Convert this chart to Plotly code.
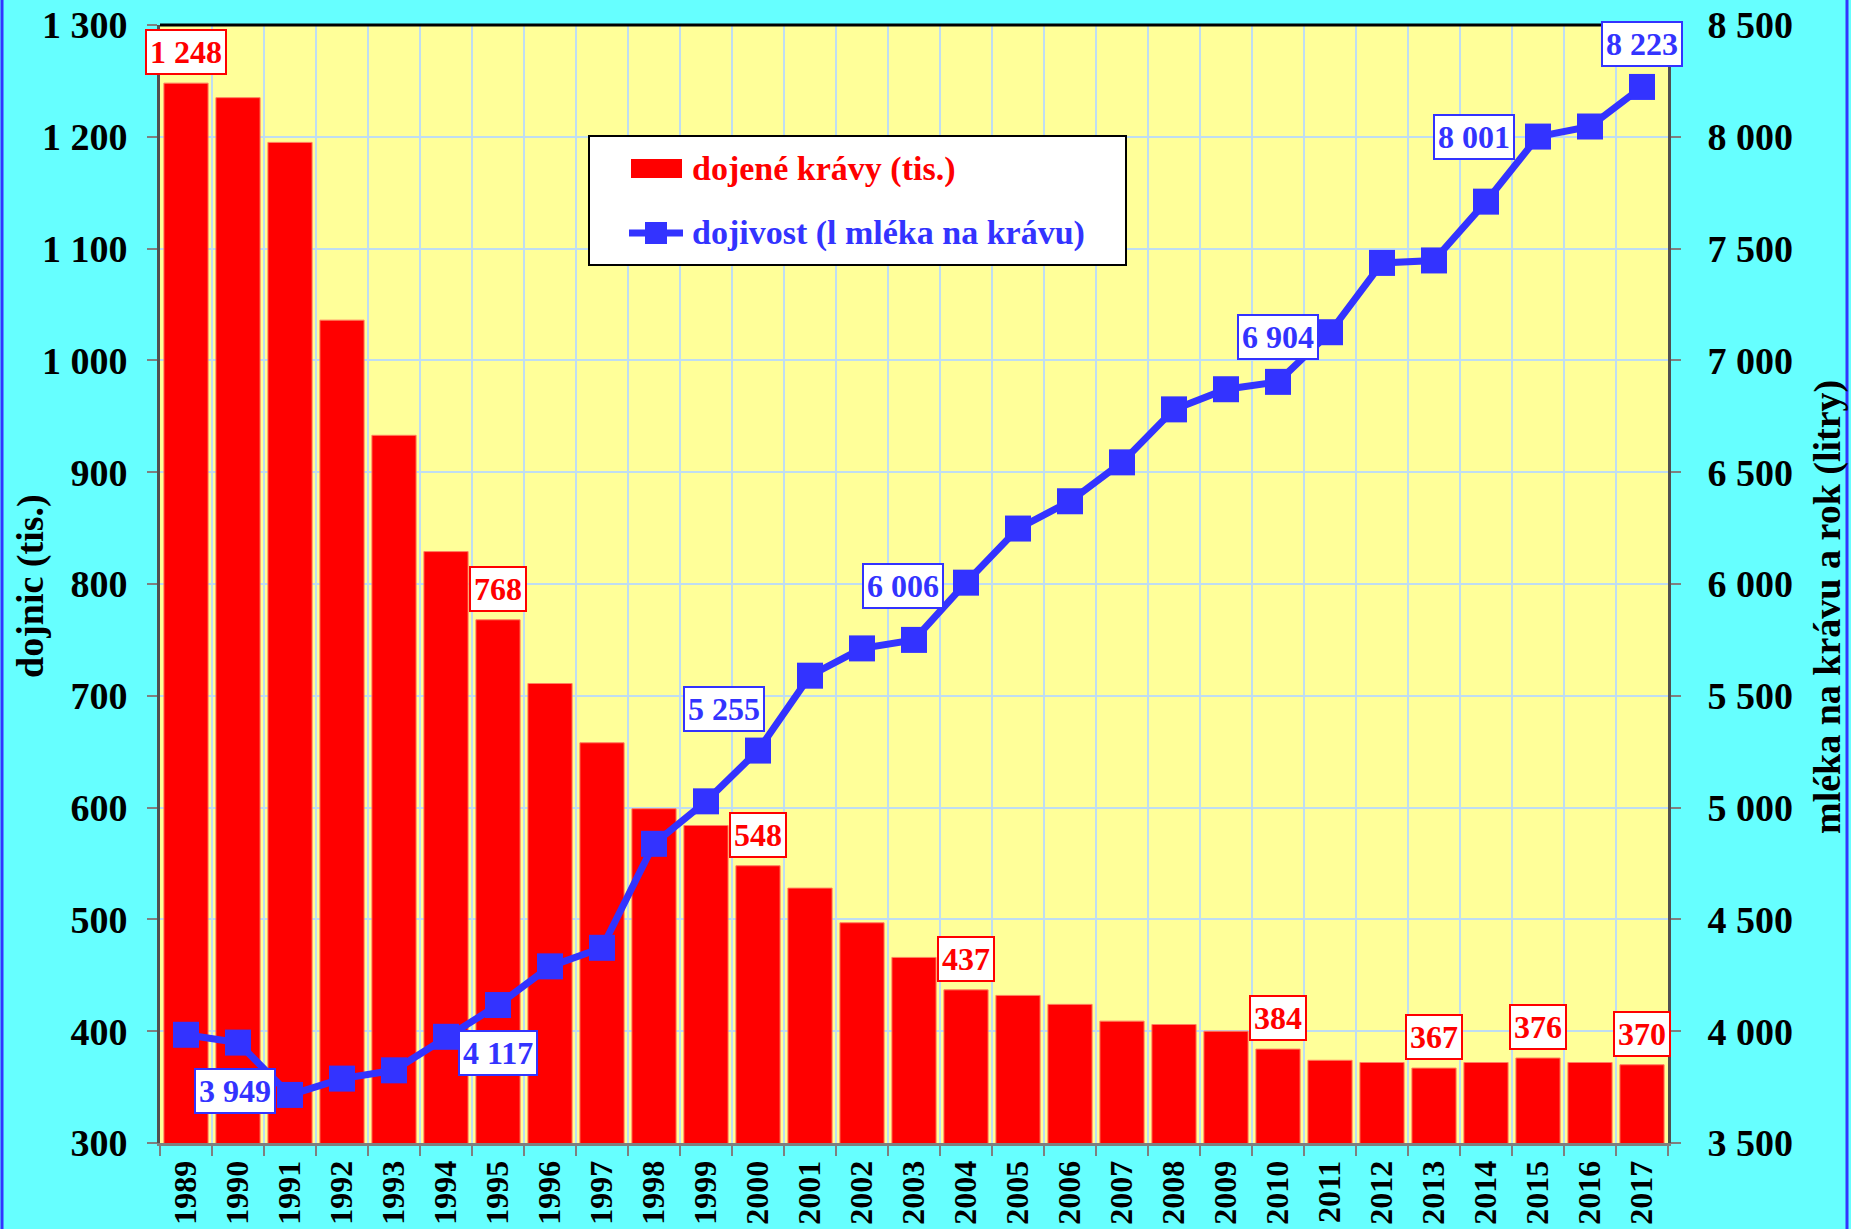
import plotly.graph_objects as go

# ---------------- data ----------------
years = ["1989", "1990", "1991", "1992", "1993", "1994", "1995", "1996", "1997", "1998",
         "1999", "2000", "2001", "2002", "2003", "2004", "2005", "2006", "2007", "2008",
         "2009", "2010", "2011", "2012", "2013", "2014", "2015", "2016", "2017"]
cows_thousands = [1248, 1235, 1195, 1036, 933, 829, 768, 711, 658, 599,
                  584, 548, 528, 497, 466, 437, 432, 424, 409, 406,
                  400, 384, 374, 372, 367, 372, 376, 372, 370]
milk_per_cow = [3984, 3949, 3715, 3788, 3825, 3975, 4117, 4290, 4373, 4838,
                5028, 5255, 5590, 5712, 5750, 6006, 6248, 6370, 6544, 6781,
                6871, 6904, 7126, 7436, 7447, 7710, 8001, 8046, 8223]
cow_label_years = ["1989", "1995", "2000", "2004", "2010", "2013", "2015", "2017"]
milk_label_years = ["1990", "1995", "2000", "2004", "2010", "2015", "2017"]
series_names = ["dojené krávy (tis.)", "dojivost (l mléka na krávu)"]
left_title = "dojnic (tis.)"
right_title = "mléka na krávu a rok (litry)"

# ---------------- style ----------------
FONT = "Liberation Serif, 'Times New Roman', Times, serif"
RED = "#FF0000"
BLUE = "#3333FF"
GRID = "#BFDDF2"
AXIS = "#7F7F7F"
W, H = 1851, 1229
L, R, T, B = 160, 183, 25, 86
PW = W - L - R
PH = H - T - B


def px(x):
    return (x - L) / PW


def py(y):
    return 1 - (y - T) / PH


def fmt(v):
    return f"{v:,}".replace(",", " ")


fig = go.Figure()
fig.add_bar(x=years, y=cows_thousands, name=series_names[0], yaxis="y",
            marker=dict(color=RED, line=dict(color="#FF8060", width=1)),
            showlegend=False)
fig.add_scatter(x=years, y=milk_per_cow, name=series_names[1], yaxis="y2",
                mode="lines+markers",
                line=dict(color=BLUE, width=7),
                marker=dict(symbol="square", size=26, color=BLUE),
                showlegend=False)

annotations = []
# bar value labels (x given as category index)
for yr in cow_label_years:
    i = years.index(yr)
    v = cows_thousands[i]
    annotations.append(dict(x=i, y=v, xref="x", yref="y", text=fmt(v),
                            showarrow=False, xanchor="center", yanchor="bottom", yshift=8,
                            font=dict(family=FONT, size=32, color=RED, weight="bold"),
                            bgcolor="white", bordercolor=RED, borderwidth=2, borderpad=3))

# line value label placements (style only)
milk_place = {
    "1990": dict(xanchor="center", yanchor="top", xshift=-3, yshift=-25),
    "1995": dict(xanchor="center", yanchor="top", xshift=0, yshift=-25),
    "2000": dict(xanchor="right", yanchor="bottom", xshift=7, yshift=19),
    "2004": dict(xanchor="right", yanchor="middle", xshift=-22, yshift=-3),
    "2010": dict(xanchor="center", yanchor="bottom", xshift=0, yshift=22),
    "2015": dict(xanchor="right", yanchor="middle", xshift=-23, yshift=0),
    "2017": dict(xanchor="center", yanchor="bottom", xshift=0, yshift=20),
}
for yr in milk_label_years:
    i = years.index(yr)
    v = milk_per_cow[i]
    annotations.append(dict(x=i, y=v, xref="x", yref="y2", text=fmt(v),
                            showarrow=False,
                            font=dict(family=FONT, size=32, color=BLUE, weight="bold"),
                            bgcolor="white", bordercolor=BLUE, borderwidth=2, borderpad=3,
                            **milk_place[yr]))

# axis titles
annotations.append(dict(x=px(30), y=py(586), xref="paper", yref="paper", text=left_title,
                        textangle=-90, showarrow=False, xanchor="center", yanchor="middle",
                        font=dict(family=FONT, size=38, color="black", weight="bold")))
annotations.append(dict(x=px(1827), y=py(607), xref="paper", yref="paper", text=right_title,
                        textangle=-90, showarrow=False, xanchor="center", yanchor="middle",
                        font=dict(family=FONT, size=38, color="black", weight="bold")))

# legend texts
annotations.append(dict(x=px(690), y=py(169), xref="paper", yref="paper", text=series_names[0],
                        showarrow=False, xanchor="left", yanchor="middle",
                        font=dict(family=FONT, size=34, color=RED, weight="bold")))
annotations.append(dict(x=px(690), y=py(233), xref="paper", yref="paper", text=series_names[1],
                        showarrow=False, xanchor="left", yanchor="middle",
                        font=dict(family=FONT, size=34, color=BLUE, weight="bold")))

shapes = [
    # top plot border
    dict(type="line", xref="paper", yref="paper", x0=0, x1=1, y0=1, y1=1,
         line=dict(color="black", width=3)),
    # legend box
    dict(type="rect", xref="paper", yref="paper", x0=px(589), x1=px(1126), y0=py(265), y1=py(136),
         fillcolor="white", line=dict(color="black", width=2)),
    dict(type="rect", xref="paper", yref="paper", x0=px(631), x1=px(682), y0=py(178), y1=py(159),
         fillcolor=RED, line=dict(width=0)),
    dict(type="line", xref="paper", yref="paper", x0=px(629), x1=px(683), y0=py(233), y1=py(233),
         line=dict(color=BLUE, width=7)),
    dict(type="rect", xref="paper", yref="paper", x0=px(645), x1=px(667), y0=py(244), y1=py(222),
         fillcolor=BLUE, line=dict(width=0)),
    # page side borders
    dict(type="line", xref="paper", yref="paper", x0=px(2), x1=px(2), y0=py(0), y1=py(H),
         line=dict(color=BLUE, width=3)),
    dict(type="line", xref="paper", yref="paper", x0=px(1847), x1=px(1847), y0=py(0), y1=py(H),
         line=dict(color=BLUE, width=3)),
]

tick_font_y = dict(family=FONT, size=38, color="black", weight="bold")
fig.update_layout(
    width=W, height=H,
    margin=dict(l=L, r=R, t=T, b=B, pad=0, autoexpand=False),
    paper_bgcolor="#66FFFF", plot_bgcolor="#FFFF99",
    separators=", ",
    bargap=0.15,
    showlegend=False,
    font=dict(family=FONT, color="black"),
    xaxis=dict(type="category", tickson="boundaries", ticks="outside", ticklen=10, tickwidth=2,
               tickcolor=AXIS, showline=True, linecolor=AXIS, linewidth=3,
               showgrid=True, gridcolor=GRID, gridwidth=2, tickangle=-90,
               tickfont=dict(family=FONT, size=32, color="black", weight="bold"),
               ticklabelstandoff=2, range=[-0.5, len(years) - 0.5], automargin=False),
    yaxis=dict(range=[300, 1300], tick0=300, dtick=100, tickformat=",d",
               ticks="outside", ticklen=10, tickwidth=2, tickcolor=AXIS,
               showline=True, linecolor="#505050", linewidth=3,
               showgrid=True, gridcolor=GRID, gridwidth=2, zeroline=False,
               tickfont=tick_font_y, ticklabelstandoff=12, automargin=False),
    yaxis2=dict(overlaying="y", side="right", range=[3500, 8500], tick0=3500, dtick=500,
                tickformat=",d", ticks="outside", ticklen=10, tickwidth=2, tickcolor=AXIS,
                showline=True, linecolor="#505050", linewidth=3,
                showgrid=False, zeroline=False,
                tickfont=tick_font_y, ticklabelstandoff=19, automargin=False),
    annotations=annotations,
    shapes=shapes,
)

fig.write_html("out.html", config={"displayModeBar": False},
               post_script="document.body.style.margin='0';document.body.style.overflow='hidden';")
